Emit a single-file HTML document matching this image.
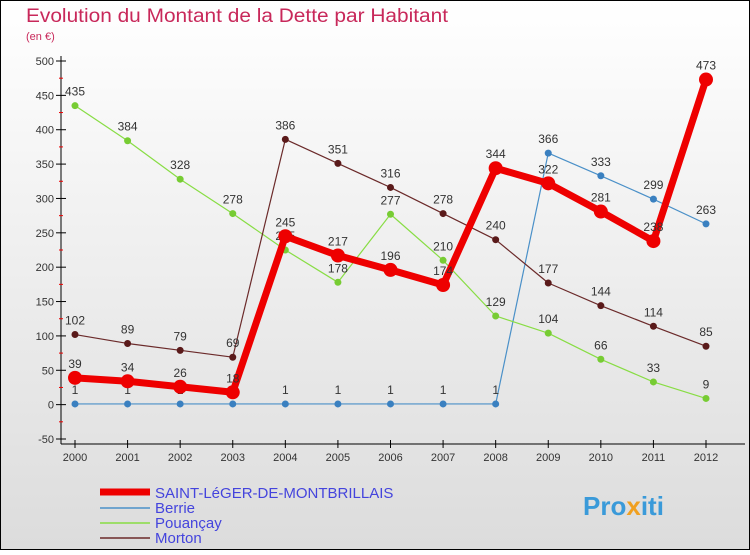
<!DOCTYPE html>
<html><head><meta charset="utf-8"><style>
body{margin:0}
svg text{font-family:"Liberation Sans",sans-serif}
</style></head><body>
<svg id="c" width="750" height="550" xmlns="http://www.w3.org/2000/svg">
<defs><linearGradient id="bg" x1="0" y1="0" x2="0" y2="1"><stop offset="0" stop-color="#ffffff"/><stop offset="1" stop-color="#dcdcdc"/></linearGradient></defs>
<rect x="0.5" y="0.5" width="749" height="549" fill="url(#bg)" stroke="#000"/>
<text x="26" y="22" font-size="19" fill="#c8285a" textLength="422" lengthAdjust="spacingAndGlyphs">Evolution du Montant de la Dette par Habitant</text>
<text x="26" y="40" font-size="11" fill="#c8285a">(en €)</text>
<g id="axes"></g><g id="series"></g>
<g>
<line x1="100" y1="492" x2="150" y2="492" stroke="#ee0000" stroke-width="7"/>
<text x="155" y="498" font-size="15" fill="#4444dd">SAINT-LéGER-DE-MONTBRILLAIS</text>
<line x1="100" y1="508" x2="150" y2="508" stroke="#4a90c8" stroke-width="1.5"/>
<text x="155" y="513" font-size="15" fill="#4444dd">Berrie</text>
<line x1="100" y1="523" x2="150" y2="523" stroke="#88dd44" stroke-width="1.5"/>
<text x="155" y="528" font-size="15" fill="#4444dd">Pouançay</text>
<line x1="100" y1="538" x2="150" y2="538" stroke="#6b2a2a" stroke-width="1.5"/>
<text x="155" y="543" font-size="15" fill="#4444dd">Morton</text>
</g>
<text x="583" y="515" font-size="26" font-weight="bold" fill="#3a9ad9">Pro<tspan fill="#f0a020">x</tspan>iti</text>
</svg>
<script>
const years=["2000","2001","2002","2003","2004","2005","2006","2007","2008","2009","2010","2011","2012"];
const yTicks=[-50,0,50,100,150,200,250,300,350,400,450,500];
const saintLeger=[39,34,26,18,245,217,196,174,344,322,281,238,473];
const berrie=[1,1,1,1,1,1,1,1,1,366,333,299,263];
const pouancay=[435,384,328,278,225,178,277,210,129,104,66,33,9];
const morton=[102,89,79,69,386,351,316,278,240,177,144,114,85];
const NS="http://www.w3.org/2000/svg";
const x0=75,x1=706,yTop=61,yBot=439,vMin=-50,vMax=500;
function xs(i){return x0+(x1-x0)*i/(years.length-1);}
function ys(v){return yBot-(v-vMin)*(yBot-yTop)/(vMax-vMin);}
function mk(t,a,p){const e=document.createElementNS(NS,t);for(const k in a)e.setAttribute(k,a[k]);p.appendChild(e);return e;}
const ax=document.getElementById('axes');
const ya=mk('line',{x1:61,y1:yTop-5,x2:61,y2:yBot+5,stroke:'#000'},ax);


const xa=mk('line',{x1:61,y1:yBot+5,x2:745,y2:yBot+5,stroke:'#000'},ax);


yTicks.forEach(v=>{
 const y=ys(v);
 mk('line',{x1:56,y1:y,x2:66,y2:y,stroke:'#000'},ax);
 const t=mk('text',{x:54,y:y+4,'font-size':11,'text-anchor':'end',fill:'#333'},ax);t.textContent=v;
 
 
 if(v<vMax){const m=ys(v+25);mk('line',{x1:59,y1:m,x2:63,y2:m,stroke:'#e00'},ax);}
});
years.forEach((yr,i)=>{
 const x=xs(i);
 mk('line',{x1:x,y1:yBot+1,x2:x,y2:yBot+9,stroke:'#000'},ax);
 const t=mk('text',{x:x,y:yBot+22,'font-size':11,'text-anchor':'middle',fill:'#333'},ax);t.textContent=yr;
 
 
});
const se=document.getElementById('series');
function draw(data,name,col,w,r,dot){
 const g=mk('g',{},se);
 
 
 const l=mk('polyline',{points:data.map((v,i)=>xs(i)+','+ys(v)).join(' '),fill:'none',stroke:col,'stroke-width':w,'stroke-linejoin':'round'},g);
 
 
 data.forEach((v,i)=>{
  const c=mk('circle',{cx:xs(i),cy:ys(v),r:r,fill:dot},g);
  
  
  const t=mk('text',{x:xs(i),y:ys(v)-10,'font-size':12,'text-anchor':'middle',fill:'#333'},g);t.textContent=v;
  
  
 });
}
draw(berrie,'berrie','#4a90c8',1.2,3.5,'#3a80c0');
draw(pouancay,'pouancay','#88dd44',1.2,3.5,'#77cc33');
draw(morton,'morton','#6b2a2a',1.2,3.5,'#5a1a1a');
draw(saintLeger,'saint-leger','#ee0000',7,7,'#ee0000');
</script>
</body></html>
